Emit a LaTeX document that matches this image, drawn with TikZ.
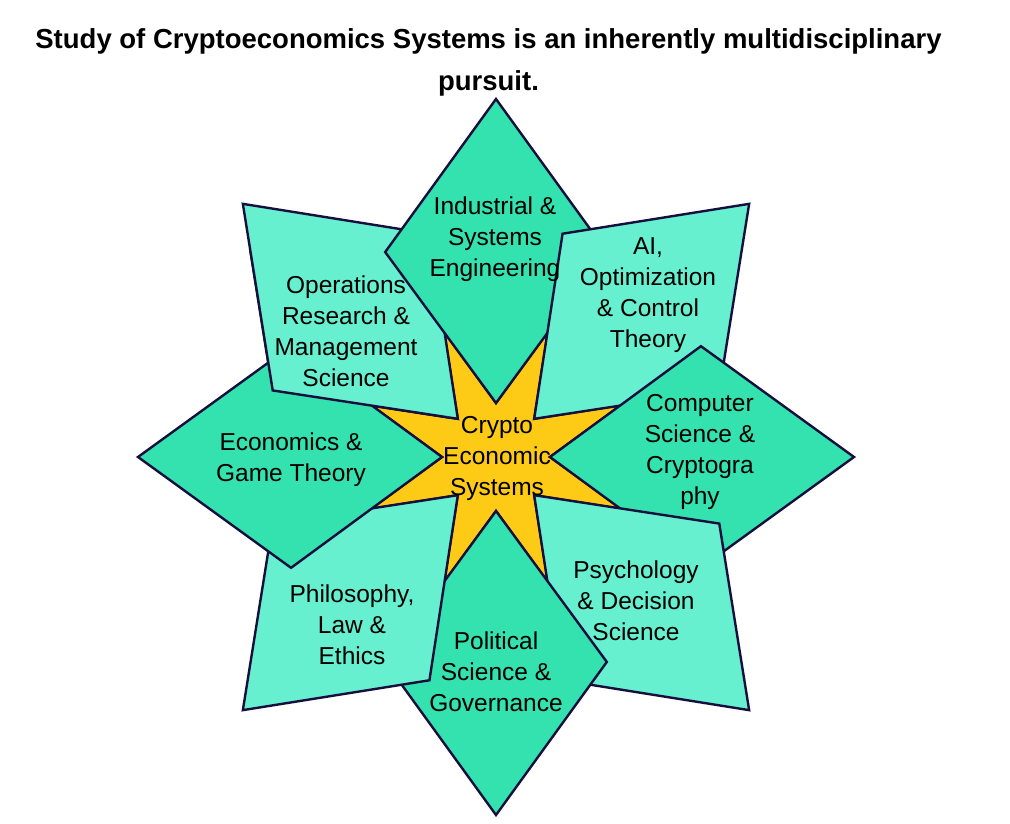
\documentclass[tikz,border=0pt]{standalone}
\usepackage{fontspec}
\setmainfont{Liberation Sans}
\usetikzlibrary{positioning}

\definecolor{mintdark}{HTML}{33E2AE}
\definecolor{mintlight}{HTML}{67F0D0}
\definecolor{staryellow}{HTML}{FDCA16}
\definecolor{outline}{HTML}{160F3E}

\begin{document}
\begin{tikzpicture}[
  x=1pt, y=1pt,
  diamondpetal/.style={fill=mintdark, draw=outline, line width=2.4pt, line join=miter},
  quadpetal/.style={fill=mintlight, draw=outline, line width=2.4pt, line join=miter},
  starcore/.style={fill=staryellow, draw=outline, line width=2.4pt, line join=miter},
  petaltext/.style={font=\fontsize{24.5}{31}\selectfont, align=center, text=black},
]
  \useasboundingbox (0,0) rectangle (1010,-824);

  % title
  \node[font=\bfseries\fontsize{27.5}{42}\selectfont, align=center] (title) at (488.5,-62)
    {Study of Cryptoeconomics Systems is an inherently multidisciplinary\\pursuit.};

  \begin{scope}[shift={(496,-457)}]
    % star in the middle, petals lie round it
    \filldraw[starcore] (0:54) -- (22.5:136) -- (45:54) -- (67.5:136) -- (90:54) -- (112.5:136)
      -- (135:54) -- (157.5:136) -- (180:54) -- (202.5:136) -- (225:54) -- (247.5:136)
      -- (270:54) -- (292.5:136) -- (315:54) -- (337.5:136) -- cycle;

    % petals, each one over the one before it
    \filldraw[quadpetal] (135:54) -- (163.4:233) -- (135:358) -- (106.6:233) -- cycle;
    \filldraw[diamondpetal] (90:54) -- (118.4:233) -- (90:358) -- (61.6:233) -- cycle;
    \filldraw[quadpetal] (45:54) -- (73.4:233) -- (45:358) -- (16.6:233) -- cycle;
    \filldraw[diamondpetal] (0:54) -- (28.4:233) -- (0:358) -- (-28.4:233) -- cycle;
    \filldraw[quadpetal] (-45:54) -- (-16.6:233) -- (-45:358) -- (-73.4:233) -- cycle;
    \filldraw[diamondpetal] (-90:54) -- (-61.6:233) -- (-90:358) -- (-118.4:233) -- cycle;
    \filldraw[quadpetal] (-135:54) -- (-106.6:233) -- (-135:358) -- (-163.4:233) -- cycle;
    \filldraw[diamondpetal] (180:54) -- (208.4:233) -- (180:358) -- (151.6:233) -- cycle;

    % operations again, over the top corner of economics
    \begin{scope}
      \clip (0,0) -- (140:600) -- (195:600) -- cycle;
      \filldraw[quadpetal] (135:54) -- (163.4:233) -- (135:358) -- (106.6:233) -- cycle;
    \end{scope}

    \node[petaltext] (operations) at (-150,126) {Operations\\Research \&\\Management\\Science};
    \node[petaltext] (industrial) at (-1,218) {Industrial \&\\Systems\\Engineering};
    \node[petaltext] (ai) at (152,162) {AI,\\Optimization\\\& Control\\Theory};
    \node[petaltext] (computer) at (204,5) {Computer\\Science \&\\Cryptogra\\phy};
    \node[petaltext] (psychology) at (140,-144) {Psychology\\\& Decision\\Science};
    \node[petaltext] (political) at (0,-215) {Political\\Science \&\\Governance};
    \node[petaltext] (philosophy) at (-144,-168) {Philosophy,\\Law \&\\Ethics};
    \node[petaltext] (economics) at (-205,-3) {Economics \&\\Game Theory};
    \node[petaltext] (crypto) at (1,-1) {Crypto\\Economic\\Systems};
  \end{scope}
\end{tikzpicture}
\end{document}
